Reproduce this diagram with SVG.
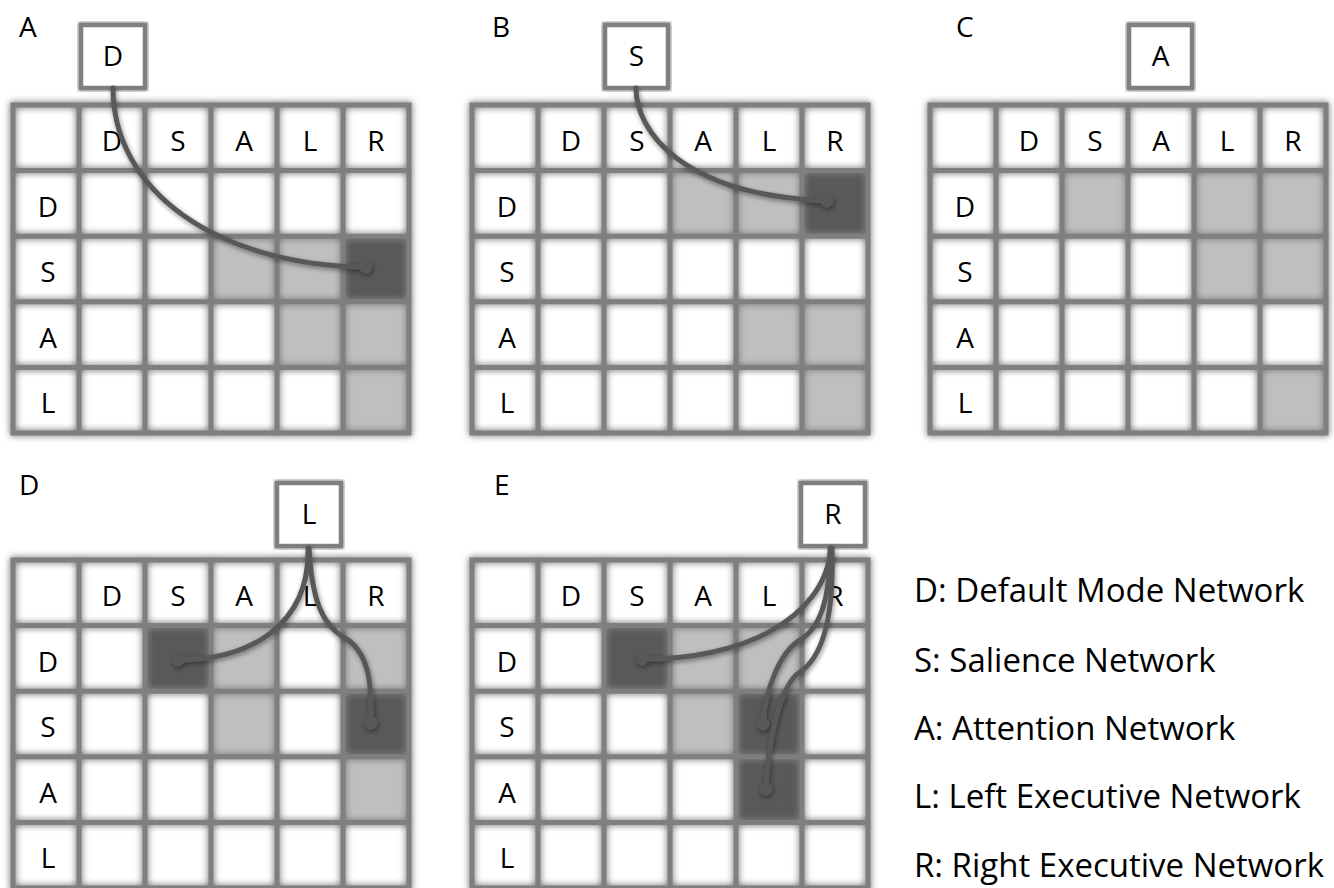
<svg xmlns="http://www.w3.org/2000/svg" xmlns:xlink="http://www.w3.org/1999/xlink" width="1334" height="888" viewBox="0 0 1334 888">
<style>
.gl { fill:none; stroke:#7f7f7f; stroke-width:5; stroke-linejoin:miter; }
.lt { fill:#bfbfbf; }
.dk { fill:#595959; }
.t { font-family:"Open Sans","DejaVu Sans",sans-serif; font-size:28px; fill:#000; text-anchor:middle; }
.pl { font-family:"Open Sans","DejaVu Sans",sans-serif; font-size:28px; fill:#000; }
.box { fill:#fff; stroke:#7f7f7f; stroke-width:4.5; }
.conn { fill:none; stroke:#595959; stroke-width:5; stroke-linecap:round; marker-end:url(#dot); }
.leg { font-family:"Open Sans","DejaVu Sans",sans-serif; font-size:33px; fill:#000; }
</style>
<defs>
<filter id="glow" x="-5%" y="-5%" width="110%" height="110%">
<feGaussianBlur in="SourceGraphic" stdDeviation="3.5" result="b"/>
<feComponentTransfer in="b" result="b2"><feFuncA type="linear" slope="1.3"/></feComponentTransfer>
<feMerge><feMergeNode in="b2"/><feMergeNode in="SourceGraphic"/></feMerge>
</filter>
<filter id="shadow" x="-10%" y="-10%" width="120%" height="120%">
<feGaussianBlur in="SourceAlpha" stdDeviation="2.5" result="b"/>
<feOffset in="b" dx="1" dy="2" result="o"/>
<feComponentTransfer in="o" result="s"><feFuncA type="linear" slope="0.45"/></feComponentTransfer>
<feMerge><feMergeNode in="s"/><feMergeNode in="SourceGraphic"/></feMerge>
</filter>
<marker id="dot" markerWidth="4" markerHeight="4" refX="2" refY="2" markerUnits="strokeWidth" orient="auto">
<circle cx="2" cy="2" r="1.3" fill="#595959"/>
</marker>
<path id="gridlines" class="gl" d="M0,0H396V328H0Z M66,0V328 M132,0V328 M198,0V328 M264,0V328 M330,0V328 M0,65.6H396 M0,131.2H396 M0,196.8H396 M0,262.4H396"/>
</defs>
<rect width="1334" height="888" fill="#fff"/>

<!-- Panel A -->
<g id="panel-A">
<text class="pl" x="19" y="37">A</text>
<g transform="translate(13,105)">
<rect class="lt" x="198" y="131.2" width="66" height="65.6"/>
<rect class="lt" x="264" y="131.2" width="66" height="65.6"/>
<rect class="dk" x="330" y="131.2" width="66" height="65.6"/>
<rect class="lt" x="264" y="196.8" width="66" height="65.6"/>
<rect class="lt" x="330" y="196.8" width="66" height="65.6"/>
<rect class="lt" x="330" y="262.4" width="66" height="65.6"/>
<use xlink:href="#gridlines" filter="url(#glow)"/>
<text class="t" x="99" y="46">D</text><text class="t" x="165" y="46">S</text><text class="t" x="231" y="46">A</text><text class="t" x="297" y="46">L</text><text class="t" x="363" y="46">R</text>
<text class="t" x="35" y="111.5">D</text><text class="t" x="35" y="177">S</text><text class="t" x="35" y="242.5">A</text><text class="t" x="35" y="308">L</text>
</g>
</g>
<g id="node-A-D">
<rect class="box" x="81" y="25" width="64" height="63" filter="url(#glow)"/>
<text class="t" x="113" y="66">D</text>
</g>

<!-- Panel B -->
<g id="panel-B">
<text class="pl" x="492" y="37">B</text>
<g transform="translate(472,105)">
<rect class="lt" x="198" y="65.6" width="66" height="65.6"/>
<rect class="lt" x="264" y="65.6" width="66" height="65.6"/>
<rect class="dk" x="330" y="65.6" width="66" height="65.6"/>
<rect class="lt" x="264" y="196.8" width="66" height="65.6"/>
<rect class="lt" x="330" y="196.8" width="66" height="65.6"/>
<rect class="lt" x="330" y="262.4" width="66" height="65.6"/>
<use xlink:href="#gridlines" filter="url(#glow)"/>
<text class="t" x="99" y="46">D</text><text class="t" x="165" y="46">S</text><text class="t" x="231" y="46">A</text><text class="t" x="297" y="46">L</text><text class="t" x="363" y="46">R</text>
<text class="t" x="35" y="111.5">D</text><text class="t" x="35" y="177">S</text><text class="t" x="35" y="242.5">A</text><text class="t" x="35" y="308">L</text>
</g>
</g>
<g id="node-B-S">
<rect class="box" x="605" y="25" width="63" height="63" filter="url(#glow)"/>
<text class="t" x="636.5" y="66">S</text>
</g>

<!-- Panel C -->
<g id="panel-C">
<text class="pl" x="956" y="37">C</text>
<g transform="translate(930,105)">
<rect class="lt" x="132" y="65.6" width="66" height="65.6"/>
<rect class="lt" x="264" y="65.6" width="66" height="65.6"/>
<rect class="lt" x="330" y="65.6" width="66" height="65.6"/>
<rect class="lt" x="264" y="131.2" width="66" height="65.6"/>
<rect class="lt" x="330" y="131.2" width="66" height="65.6"/>
<rect class="lt" x="330" y="262.4" width="66" height="65.6"/>
<use xlink:href="#gridlines" filter="url(#glow)"/>
<text class="t" x="99" y="46">D</text><text class="t" x="165" y="46">S</text><text class="t" x="231" y="46">A</text><text class="t" x="297" y="46">L</text><text class="t" x="363" y="46">R</text>
<text class="t" x="35" y="111.5">D</text><text class="t" x="35" y="177">S</text><text class="t" x="35" y="242.5">A</text><text class="t" x="35" y="308">L</text>
</g>
</g>
<g id="node-C-A">
<rect class="box" x="1129" y="25" width="63" height="63" filter="url(#glow)"/>
<text class="t" x="1160.5" y="66">A</text>
</g>

<!-- Panel D -->
<g id="panel-D">
<text class="pl" x="19" y="495">D</text>
<g transform="translate(13,560)">
<rect class="dk" x="132" y="65.6" width="66" height="65.6"/>
<rect class="lt" x="198" y="65.6" width="66" height="65.6"/>
<rect class="lt" x="330" y="65.6" width="66" height="65.6"/>
<rect class="lt" x="198" y="131.2" width="66" height="65.6"/>
<rect class="dk" x="330" y="131.2" width="66" height="65.6"/>
<rect class="lt" x="330" y="196.8" width="66" height="65.6"/>
<use xlink:href="#gridlines" filter="url(#glow)"/>
<text class="t" x="99" y="46">D</text><text class="t" x="165" y="46">S</text><text class="t" x="231" y="46">A</text><text class="t" x="297" y="46">L</text><text class="t" x="363" y="46">R</text>
<text class="t" x="35" y="111.5">D</text><text class="t" x="35" y="177">S</text><text class="t" x="35" y="242.5">A</text><text class="t" x="35" y="308">L</text>
</g>
</g>
<g id="node-D-L">
<rect class="box" x="277" y="483" width="64" height="63" filter="url(#glow)"/>
<text class="t" x="309" y="524">L</text>
</g>

<!-- Panel E -->
<g id="panel-E">
<text class="pl" x="494" y="495">E</text>
<g transform="translate(472,560)">
<rect class="dk" x="132" y="65.6" width="66" height="65.6"/>
<rect class="lt" x="198" y="65.6" width="66" height="65.6"/>
<rect class="lt" x="264" y="65.6" width="66" height="65.6"/>
<rect class="lt" x="198" y="131.2" width="66" height="65.6"/>
<rect class="dk" x="264" y="131.2" width="66" height="65.6"/>
<rect class="dk" x="264" y="196.8" width="66" height="65.6"/>
<use xlink:href="#gridlines" filter="url(#glow)"/>
<text class="t" x="99" y="46">D</text><text class="t" x="165" y="46">S</text><text class="t" x="231" y="46">A</text><text class="t" x="297" y="46">L</text><text class="t" x="363" y="46">R</text>
<text class="t" x="35" y="111.5">D</text><text class="t" x="35" y="177">S</text><text class="t" x="35" y="242.5">A</text><text class="t" x="35" y="308">L</text>
</g>
</g>
<g id="node-E-R">
<rect class="box" x="801" y="483" width="64" height="63" filter="url(#glow)"/>
<text class="t" x="833" y="524">R</text>
</g>

<!-- Connectors -->
<g id="connectors" filter="url(#shadow)">
<path class="conn" d="M113,88 C113,190 215,265 366,267"/>
<path class="conn" d="M636,88 C636,130 680,195 827,201"/>
<path class="conn" d="M308,548 C310,625 250,660 178,660"/>
<path class="conn" d="M309,548 C312,600 322,625 345,638 C368,652 372,680 371,723"/>
<path class="conn" d="M831,548 C825,620 740,660 642,659"/>
<path class="conn" d="M830,548 C830,600 820,628 800,640 C780,652 765,690 763,724"/>
<path class="conn" d="M832,548 C834,610 825,655 800,672 C780,685 768,740 766,789"/>
</g>

<!-- Legend -->
<g id="legend">
<text class="leg" x="914" y="602">D: Default Mode Network</text>
<text class="leg" x="914" y="672">S: Salience Network</text>
<text class="leg" x="914" y="740">A: Attention Network</text>
<text class="leg" x="914" y="808">L: Left Executive Network</text>
<text class="leg" x="914" y="877">R: Right Executive Network</text>
</g>
</svg>
